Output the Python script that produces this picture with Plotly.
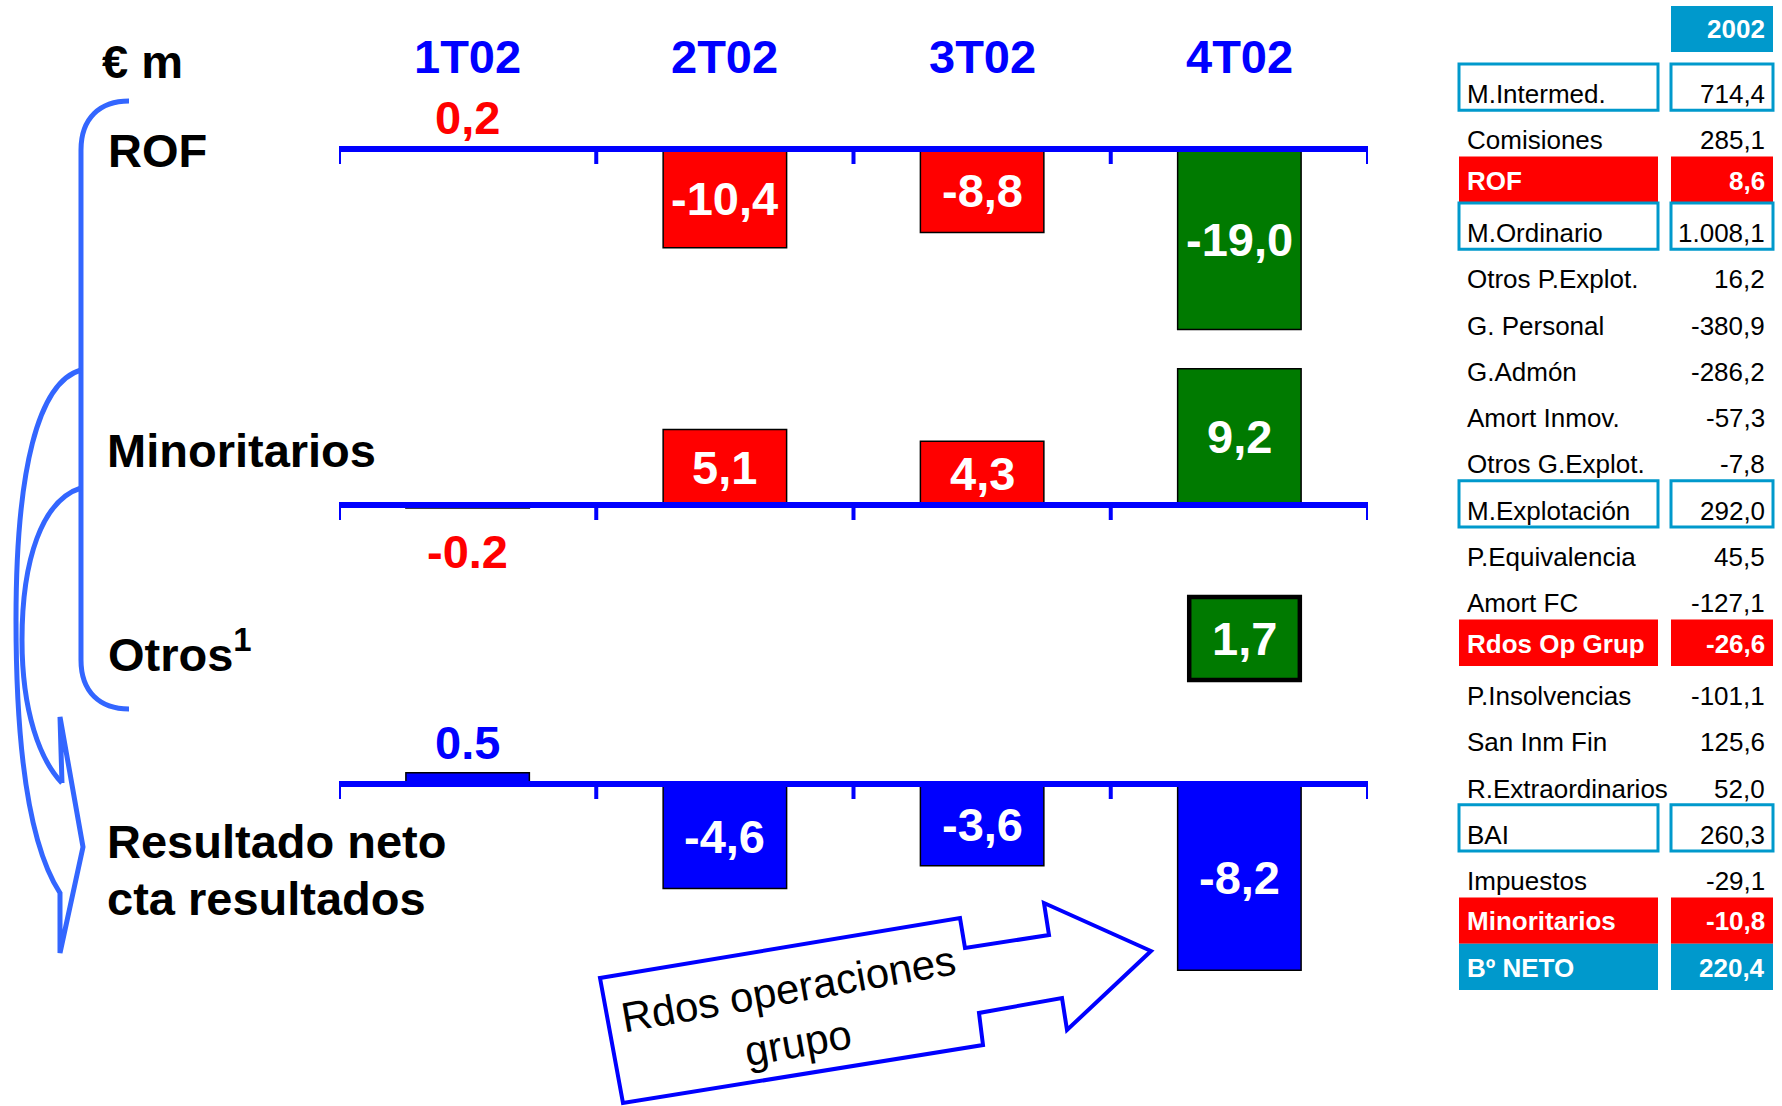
import plotly.graph_objects as go

# ---------------- data ----------------
quarters = ["1T02", "2T02", "3T02", "4T02"]

rof_values = [0.2, -10.4, -8.8, -19.0]
rof_labels = ["0,2", "-10,4", "-8,8", "-19,0"]

minor_values = [-0.2, 5.1, 4.3, 9.2]
minor_labels = ["-0.2", "5,1", "4,3", "9,2"]

otros_values = [None, None, None, 1.7]
otros_labels = ["", "", "", "1,7"]

neto_values = [0.5, -4.6, -3.6, -8.2]
neto_labels = ["0.5", "-4,6", "-3,6", "-8,2"]

table_year = "2002"
table_labels = ["M.Intermed.", "Comisiones", "ROF", "M.Ordinario", "Otros P.Explot.",
                "G. Personal", "G.Admón", "Amort Inmov.", "Otros G.Explot.", "M.Explotación",
                "P.Equivalencia", "Amort FC", "Rdos Op Grup", "P.Insolvencias", "San Inm Fin",
                "R.Extraordinarios", "BAI", "Impuestos", "Minoritarios", "Bº NETO"]
table_values = ["714,4", "285,1", "8,6", "1.008,1", "16,2", "-380,9", "-286,2", "-57,3",
                "-7,8", "292,0", "45,5", "-127,1", "-26,6", "-101,1", "125,6", "52,0",
                "260,3", "-29,1", "-10,8", "220,4"]
table_styles = ["box", "plain", "red", "box", "plain", "plain", "plain", "plain", "plain",
                "box", "plain", "plain", "red", "plain", "plain", "plain", "box", "plain",
                "red", "cyan"]

# ---------------- styling ----------------
W, H = 1782, 1106
RED, GREEN, BLUE = "#FF0000", "#007A00", "#0000FF"
CYAN = "#0099CC"
BRACE = "#3366FF"
FONT = "Liberation Sans, Arial, Helvetica, sans-serif"
BIG = 47


def px(x, y):
    return x / W, 1 - y / H


def path(cmds):
    out = []
    for c in cmds:
        op, pts = c[0], c[1:]
        coords = []
        for i in range(0, len(pts), 2):
            a, b = px(pts[i], pts[i + 1])
            coords.append(f"{a:.5f},{b:.5f}")
        out.append(op + " ".join(coords))
    return " ".join(out)


# panel geometry: zero line pixel row, pixels per unit, value range
panels = {
    "y":  dict(zero=149, scale=9.5,  rng=(-21, 1.5),   axis=True),
    "y2": dict(zero=505, scale=14.8, rng=(-1.5, 10.5), axis=True),
    "y3": dict(zero=680, scale=48.8, rng=(-0.1, 1.8),  axis=False),
    "y4": dict(zero=784, scale=22.7, rng=(-9, 1.5),    axis=True),
}


def domain(p):
    bottom = p["zero"] - p["rng"][0] * p["scale"]
    top = p["zero"] - p["rng"][1] * p["scale"]
    return [1 - bottom / H, 1 - top / H]


series = [
    ("y",  rof_values,   rof_labels,   [RED, RED, RED, GREEN], 0.48, -0.24, 1.5),
    ("y2", minor_values, minor_labels, [RED, RED, RED, GREEN], 0.48, -0.24, 1.5),
    ("y3", otros_values, otros_labels, [GREEN] * 4,           0.43, -0.195, 4.5),
    ("y4", neto_values,  neto_labels,  [BLUE] * 4,            0.48, -0.24, 1.5),
]

fig = go.Figure()
shapes = []
annotations = []


def note(**kw):
    kw.setdefault("showarrow", False)
    kw.setdefault("xanchor", "center")
    kw.setdefault("yanchor", "middle")
    annotations.append(kw)


for key, vals, labs, cols, w, off, lw in series:
    fig.add_trace(go.Bar(
        x=quarters, y=vals, yaxis=key, xaxis="x",
        width=w, offset=off,
        marker=dict(color=cols, line=dict(color="black", width=lw)),
        hoverinfo="skip", showlegend=False,
    ))
    p = panels[key]
    for i, (v, t) in enumerate(zip(vals, labs)):
        if v is None:
            continue
        tall = abs(v) * p["scale"] > 40
        if tall:
            note(x=quarters[i], y=v / 2, xref="x", yref=key, text=f"<b>{t}</b>",
                 xshift=5 if key == "y3" else 0,
                 font=dict(family=FONT, size=BIG, color="white"))
        else:
            note(x=quarters[i], y=v, xref="x", yref=key, text=f"<b>{t}</b>",
                 yshift=30 if v > 0 else -44,
                 font=dict(family=FONT, size=BIG, color=cols[i]))
    if p["axis"]:
        shapes.append(dict(type="line", xref="x", yref=key, x0=-0.5, x1=3.5, y0=0, y1=0,
                           line=dict(color=BLUE, width=6)))
        for xb in [-0.5, 0.5, 1.5, 2.5, 3.5]:
            shapes.append(dict(type="line", xref="x", yref=key, x0=xb, x1=xb,
                               y0=0, y1=-15 / p["scale"],
                               line=dict(color=BLUE, width=4)))

# quarter headers
for q in quarters:
    note(x=q, xref="x", y=px(0, 57)[1], yref="paper", text=f"<b>{q}</b>",
         font=dict(family=FONT, size=BIG, color=BLUE))

# row titles on the left
left_titles = [("€ m", 100, 62), ("ROF", 106, 150), ("Minoritarios", 105, 450),
               ("Otros<sup>1</sup>", 106, 651), ("Resultado neto", 105, 841),
               ("cta resultados", 105, 898)]
for t, x, y in left_titles:
    ax, ay = px(x, y)
    note(x=ax, y=ay, xref="paper", yref="paper", text=f"<b>{t}</b>", xanchor="left",
         font=dict(family=FONT, size=BIG, color="black"))

# braces joining the rows
brace_paths = [
    [("M", 129, 101), ("C", 100, 101, 81, 118, 81, 150), ("L", 81, 660),
     ("C", 81, 692, 100, 709, 129, 709)],
    [("M", 81, 370), ("C", 38, 382, 16, 470, 16, 620), ("C", 16, 760, 32, 850, 60, 893),
     ("L", 60, 953), ("L", 83, 847), ("L", 60, 717), ("L", 62, 783)],
    [("M", 81, 488), ("C", 42, 500, 22, 560, 22, 640), ("C", 22, 712, 40, 760, 62, 783)],
]
for bp in brace_paths:
    shapes.append(dict(type="path", xref="paper", yref="paper", path=path(bp),
                       line=dict(color=BRACE, width=5)))

# block arrow with caption
arrow_pts = [(600, 978), (960, 918), (965, 948), (1049, 935), (1044, 903), (1151, 951),
             (1067, 1030), (1062, 998), (979, 1013), (983, 1045), (623, 1103)]
arrow_cmds = [("M",) + arrow_pts[0]] + [("L",) + p for p in arrow_pts[1:]] + [("Z",)]
shapes.append(dict(type="path", xref="paper", yref="paper", path=path(arrow_cmds),
                   fillcolor="white", line=dict(color=BLUE, width=4)))
ax, ay = px(793, 1016)
note(x=ax, y=ay, xref="paper", yref="paper", text="Rdos operaciones<br>grupo",
     textangle=-10, font=dict(family=FONT, size=42, color="black"))

# summary table on the right
LBL_X0, LBL_X1, VAL_X0, VAL_X1 = 1459, 1658, 1671, 1773
x0p, y0p = px(VAL_X0, 6)
x1p, y1p = px(VAL_X1, 52)
shapes.append(dict(type="rect", xref="paper", yref="paper", x0=x0p, x1=x1p, y0=y1p, y1=y0p,
                   fillcolor=CYAN, line=dict(width=0)))
note(x=px(1767, 0)[0], y=px(0, 29)[1], xref="paper", yref="paper",
     text=f"<b>{table_year}</b>", xanchor="right",
     font=dict(family=FONT, size=26, color="white"))

ROW0, PITCH = 64, 46.3
for i, (lab, val, sty) in enumerate(zip(table_labels, table_values, table_styles)):
    top = ROW0 + PITCH * i
    bot = top + PITCH
    for xa, xb in [(LBL_X0, LBL_X1), (VAL_X0, VAL_X1)]:
        (ra, rt), (rb, rbm) = px(xa, top), px(xb, bot)
        if sty == "box":
            shapes.append(dict(type="rect", xref="paper", yref="paper", x0=ra, x1=rb,
                               y0=rbm, y1=rt, line=dict(color=CYAN, width=3)))
        elif sty in ("red", "cyan"):
            shapes.append(dict(type="rect", xref="paper", yref="paper", x0=ra, x1=rb,
                               y0=rbm, y1=rt, fillcolor=RED if sty == "red" else CYAN,
                               line=dict(width=0)))
    filled = sty in ("red", "cyan")
    ty = px(0, top + (24 if filled else 30))[1]
    fnt = dict(family=FONT, size=26, color="white" if filled else "black")
    lt = f"<b>{lab}</b>" if filled else lab
    vt = f"<b>{val}</b>" if filled else val
    note(x=px(1465, 0)[0], y=ty, xref="paper", yref="paper", text=lt, xanchor="left",
         font=fnt)
    note(x=px(1767, 0)[0], y=ty, xref="paper", yref="paper", text=vt, xanchor="right",
         font=fnt)

layout = dict(
    width=W, height=H, margin=dict(l=0, r=0, t=0, b=0),
    paper_bgcolor="white", plot_bgcolor="rgba(0,0,0,0)",
    xaxis=dict(domain=[339 / W, 1368 / W], range=[-0.5, 3.5], visible=False,
               type="category", categoryorder="array", categoryarray=quarters,
               anchor="y", fixedrange=True),
    shapes=shapes, annotations=annotations, barmode="overlay",
)
for key, p in panels.items():
    name = "yaxis" if key == "y" else "yaxis" + key[1:]
    layout[name] = dict(domain=domain(p), range=list(p["rng"]), visible=False,
                        anchor="x", fixedrange=True)
fig.update_layout(**layout)

fig.write_html("out.html", config=dict(displayModeBar=False))
